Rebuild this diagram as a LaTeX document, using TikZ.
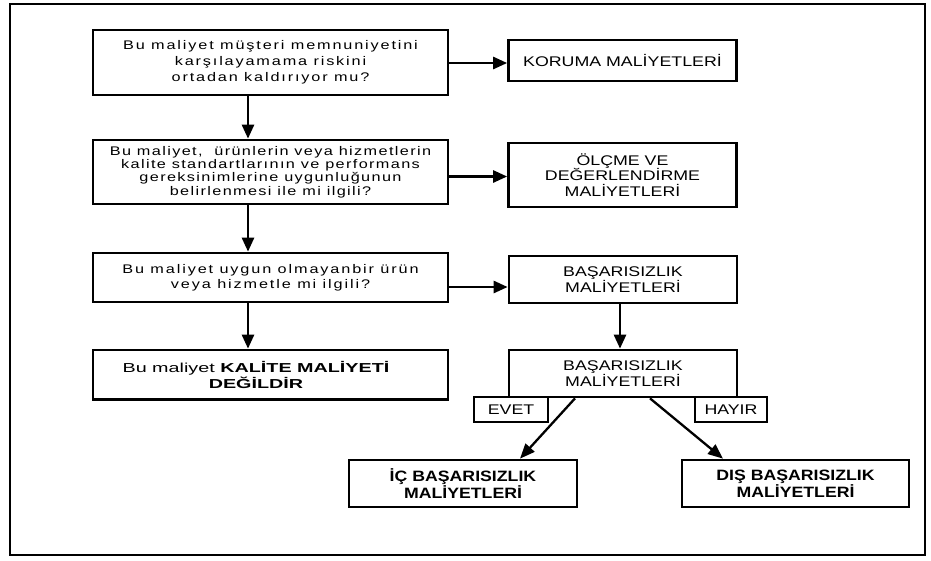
\documentclass[tikz,border=0pt]{standalone}
\usepackage{fontspec}
\setmainfont{Liberation Sans}
\newfontfamily\qonefont[FakeStretch=1.3,LetterSpace=14.8]{Liberation Sans}
\newfontfamily\qtwofont[FakeStretch=1.3,LetterSpace=11]{Liberation Sans}
\newfontfamily\qthreefont[FakeStretch=1.3,LetterSpace=15]{Liberation Sans}
\newfontfamily\qfourfont[FakeStretch=1.52]{Liberation Sans}
\newfontfamily\rfont[FakeStretch=1.27]{Liberation Sans}
\newfontfamily\bbfont[FakeStretch=1.18]{Liberation Sans}
\usetikzlibrary{arrows.meta}
\tikzset{
  box/.style={draw, line width=2.7pt, rectangle, inner sep=0pt, align=center},
  qbox/.style={box, minimum width=355pt},
  rbox/.style={box, minimum width=228pt, font={\rfont\fontsize{14}{15.5}\selectfont}},
  tagbox/.style={box, minimum height=25pt, font={\rfont\fontsize{14}{15.5}\selectfont}},
  endbox/.style={box, minimum width=228pt, minimum height=47pt, font={\bbfont\bfseries\fontsize{15}{15.7}\selectfont}},
  arr/.style={line width=2.6pt, -{Triangle[length=14pt,width=12pt]}},
  diag/.style={line width=2.3pt, -{Triangle[length=15pt,width=12pt]}}
}
\begin{document}
\begin{tikzpicture}[x=1pt,y=-1pt]
\useasboundingbox (0,0) rectangle (931,560);
\draw[line width=2pt] (10,4) rectangle (925,555);

\node[qbox, minimum height=65pt, font={\qonefont\fontsize{12.5}{15.8}\selectfont}] (q1) at (270.5,62.5)
  {Bu maliyet müşteri memnuniyetini\\karşılayamama riskini\\ortadan kaldırıyor mu?};
\node[qbox, minimum height=64pt, font={\qtwofont\fontsize{12.5}{13.2}\selectfont}] (q2) at (270.5,172)
  {Bu maliyet,~ ürünlerin veya hizmetlerin\\kalite standartlarının ve performans\\gereksinimlerine uygunluğunun\\belirlenmesi ile mi ilgili?};
\node[qbox, minimum height=49pt, font={\qthreefont\fontsize{12.5}{15.2}\selectfont}] (q3) at (270.5,277.5)
  {Bu maliyet uygun olmayanbir ürün\\veya hizmetle mi ilgili?};
\node[qbox, minimum height=49.5pt, font={\qfourfont\fontsize{13}{15.7}\selectfont}] (q4) at (270.5,374.75)
  {Bu maliyet \textbf{KALİTE MALİYETİ}\hspace*{29pt}\\\textbf{DEĞİLDİR}\hspace*{29pt}};

\node[rbox, minimum height=41pt] (k) at (622.5,60.5) {KORUMA MALİYETLERİ};
\node[rbox, minimum height=64pt] (o) at (622.5,175) {ÖLÇME VE\\DEĞERLENDİRME\\MALİYETLERİ};
\node[rbox, minimum height=47pt] (b1) at (623,279.5) {BAŞARISIZLIK\\MALİYETLERİ};
\node[rbox, minimum height=47pt] (b2) at (623,373.5) {BAŞARISIZLIK\\MALİYETLERİ};
\node[tagbox, minimum width=74pt] (evet) at (511,409.5) {EVET};
\node[tagbox, minimum width=72pt] (hayir) at (731,409.5) {HAYIR};
\node[endbox] (ic) at (463,483.5) {İÇ BAŞARISIZLIK\\MALİYETLERİ};
\node[endbox, minimum width=227pt] (dis) at (795.5,483.5) {DIŞ BAŞARISIZLIK\\MALİYETLERİ};

\draw[arr] ([xshift=-22.5pt]q1.south) -- ([xshift=-22.5pt]q2.north);
\draw[arr] ([xshift=-22.5pt]q2.south) -- ([xshift=-22.5pt]q3.north);
\draw[arr] ([xshift=-22.5pt]q3.south) -- ([xshift=-22.5pt]q4.north);
\draw[arr] ([yshift=-0.5pt]q1.east) -- ([yshift=-0.5pt]q1.east -| k.west);
\draw[arr] ([yshift=-4.5pt]q2.east) -- ([yshift=-4.5pt]q2.east -| o.west);
\draw[arr] ([yshift=-9.5pt]q3.east) -- ([yshift=-9.5pt]q3.east -| b1.west);
\draw[arr] ([xshift=-3pt]b1.south) -- ([xshift=-3pt]b2.north);
\draw[diag] ([xshift=-48pt]b2.south) -- ([xshift=57pt]ic.north);
\draw[diag] ([xshift=27pt]b2.south) -- ([xshift=-72.5pt]dis.north);
\end{tikzpicture}
\end{document}
